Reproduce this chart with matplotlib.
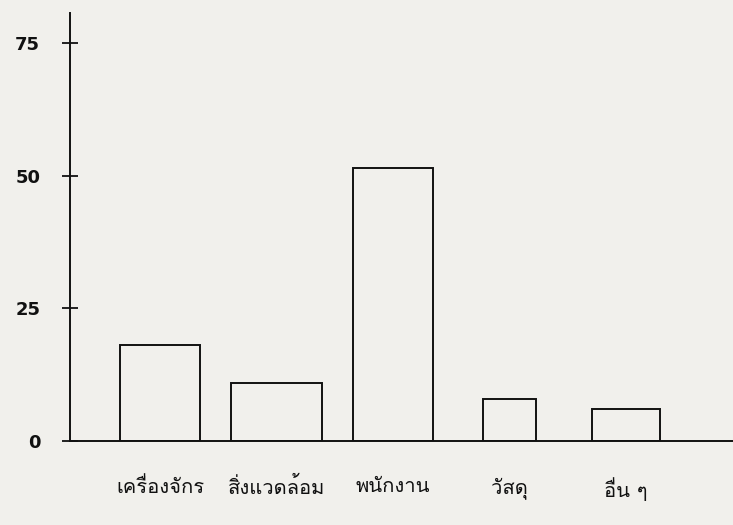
import matplotlib
matplotlib.use('Agg')
import matplotlib.pyplot as plt
import numpy as np

categories = ['เครื่องจักร', 'สิ่งแวดล้อม', 'พนักงาน', 'วัสดุ', 'อื่น ๆ']
values = [18, 11, 51.5, 8, 6]
yticks = [0, 25, 50, 75]

paper = '#f1f0ec'
ink = '#111111'

fig = plt.figure(figsize=(7.33, 5.25), dpi=100, facecolor=paper)
ax = fig.add_axes([0.0955, 0.16, 0.9045, 0.815], facecolor=paper)

x = np.arange(len(categories))
widths = [0.69, 0.78, 0.69, 0.45, 0.58]
ax.bar(x, values, width=widths, facecolor=paper, edgecolor=ink, linewidth=1.4)

ax.set_xlim(-0.773, 4.918)
ax.set_ylim(0, 80.6)

for s in ['top', 'right']:
    ax.spines[s].set_visible(False)
for s in ['left', 'bottom']:
    ax.spines[s].set_color(ink)
    ax.spines[s].set_linewidth(1.4)

ax.set_yticks(yticks)
ax.set_yticklabels([str(t) for t in yticks], fontsize=13, fontweight='bold',
                   family='DejaVu Sans')
ax.tick_params(axis='y', direction='inout', length=11, width=1.3, pad=16,
               colors=ink)

ax.set_xticks(x)
ax.set_xticklabels(categories, family=['Loma', 'DejaVu Sans'], fontsize=14.5)
ax.tick_params(axis='x', length=0, pad=26, colors=ink)

fig.savefig('out.png', dpi=100, facecolor=paper)
